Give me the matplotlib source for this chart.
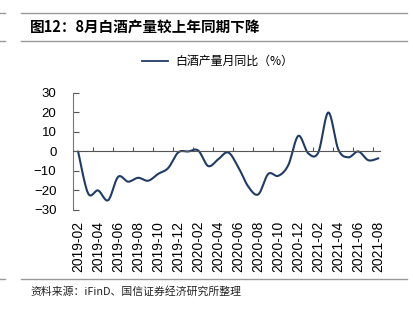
import numpy as np
import matplotlib
matplotlib.use('Agg')
from matplotlib import pyplot as plt
from matplotlib.lines import Line2D

plt.rcParams['font.family'] = ['Liberation Sans', 'Noto Sans CJK SC']

# Monthly data, 2019-02 .. 2021-08
months = ['2019-02', '2019-03', '2019-04', '2019-05', '2019-06', '2019-07',
          '2019-08', '2019-09', '2019-10', '2019-11', '2019-12', '2020-01',
          '2020-02', '2020-03', '2020-04', '2020-05', '2020-06', '2020-07',
          '2020-08', '2020-09', '2020-10', '2020-11', '2020-12', '2021-01',
          '2021-02', '2021-03', '2021-04', '2021-05', '2021-06', '2021-07',
          '2021-08']
yoy = [0, -21.5, -20, -25, -13, -15.5, -13.5, -15, -11.5, -8.5, -0.5, 0,
       0.5, -7.5, -4, -0.5, -8, -18, -22, -11.5, -12.5, -7, 8, -1,
       -0.5, 20, 1, -3, 0, -4.5, -3.5]

title = '图12：8月白酒产量较上年同期下降'
series_name = '白酒产量月同比（%）'
source = '资料来源：iFinD、国信证券经济研究所整理'
cjk = ['Noto Sans CJK SC', 'Liberation Sans']


def smooth(xs, ys, n=20):
    # bezier smoothing like the spreadsheet "smoothed line"
    xs = np.asarray(xs, float)
    ys = np.asarray(ys, float)
    px = np.concatenate([[xs[0]], xs, [xs[-1]]])
    py = np.concatenate([[ys[0]], ys, [ys[-1]]])
    out_x, out_y = [], []
    for i in range(1, len(px) - 2):
        p0, p1, p2, p3 = [np.array([px[j], py[j]]) for j in (i - 1, i, i + 1, i + 2)]
        c1 = p1 + (p2 - p0) / 6
        c2 = p2 - (p3 - p1) / 6
        t = np.linspace(0, 1, n, endpoint=(i == len(px) - 3))[:, None]
        b = ((1 - t) ** 3) * p1 + 3 * ((1 - t) ** 2) * t * c1 + 3 * (1 - t) * t ** 2 * c2 + t ** 3 * p2
        out_x.extend(b[:, 0])
        out_y.extend(b[:, 1])
    return out_x, out_y


fig = plt.figure(figsize=(4.13, 3.24), dpi=100)
ax = fig.add_axes([0.177, 0.352, 0.744, 0.361])

x = np.arange(len(months))
sx, sy = smooth(x, yoy)
ax.plot(sx, sy, color='#1F3B66', lw=1.5, solid_capstyle='round')

ax.set_ylim(-30, 30)
ax.set_yticks([30, 20, 10, 0, -10, -20, -30])
ax.set_xlim(-0.5, 30.2)
ax.set_xticks(x[::2])
ax.set_xticklabels(months[::2], fontsize=8.6)
ax.set_xticks(np.arange(1.5, 30, 2), minor=True)
ax.tick_params(axis='x', which='major', length=0, pad=50, labelrotation=90)
ax.tick_params(axis='x', which='minor', length=3, direction='in',
               color='#555555', width=0.8)
ax.tick_params(axis='y', length=4, direction='in', labelsize=9.5,
               color='#555555', width=0.8, pad=12)

for s in ('top', 'right'):
    ax.spines[s].set_visible(False)
ax.spines['bottom'].set_position(('data', 0))
ax.spines['bottom'].set_color('#555555')
ax.spines['bottom'].set_linewidth(0.8)
ax.spines['left'].set_color('#777777')
ax.spines['left'].set_linewidth(0.8)

# legend
ax.legend([Line2D([0], [0], color='#1F3B66', lw=1.3)], [series_name],
          loc='lower center', bbox_to_anchor=(0.47, 1.12), frameon=False,
          handlelength=2.2, handletextpad=0.6, prop={'family': cjk, 'size': 8.6})

# header / footer rules
for yy in (13, 41, 279):
    fig.add_artist(Line2D([0.05, 0.985], [1 - yy / 324] * 2, color='#999999', lw=1))
    fig.add_artist(Line2D([0.0, 0.012], [1 - yy / 324] * 2, color='#999999', lw=1))
fig.text(30 / 413, 1 - 27 / 324, title, fontsize=10.5, fontweight='bold',
         family=cjk, va='center', ha='left')
fig.text(30 / 413, 1 - 291 / 324, source, fontsize=7.8, family=cjk,
         va='center', ha='left', color='#222222')

plt.savefig('out.png', dpi=100)
